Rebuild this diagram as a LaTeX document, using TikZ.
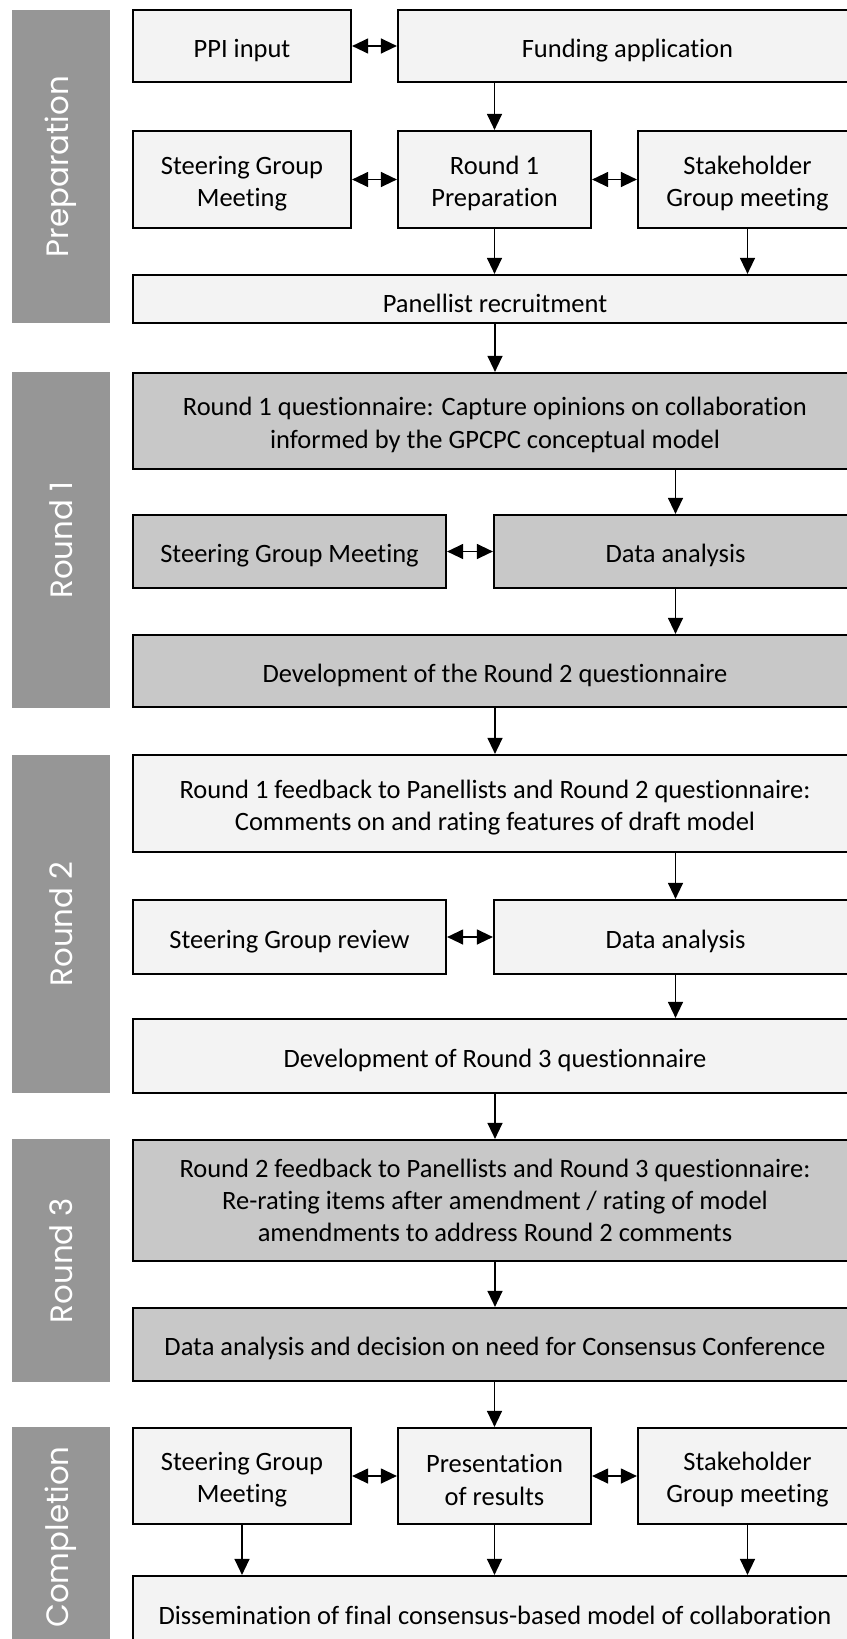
\documentclass[tikz,border=0pt]{standalone}
\usepackage{fontspec}
\setmainfont{Carlito}[Ligatures={NoCommon}]
\newfontfamily\sidefont{Poppins}
\usetikzlibrary{arrows.meta}
\definecolor{sidegray}{HTML}{969696}
\definecolor{lightbox}{HTML}{F3F3F3}
\definecolor{darkbox}{HTML}{C8C8C8}
\newcommand\topstrut{\rule{0pt}{26bp}}
\begin{document}
\begin{tikzpicture}[x=1bp,y=-1bp,
  box/.style={draw=black, line width=2.2bp, fill=lightbox, inner sep=0pt, align=center, font=\fontsize{26.6}{32.5}\selectfont, execute at begin node={\rule{0pt}{27bp}}},
  gbox/.style={box, fill=darkbox},
  side/.style={fill=sidegray, rotate=90, inner sep=0pt, text=white, font=\sidefont\fontsize{31}{36}\selectfont},
  arr/.style={line width=1.3bp, -{Triangle[length=16bp,width=15bp]}},
  darr/.style={line width=1.3bp, {Triangle[length=16bp,width=15bp]}-{Triangle[length=16bp,width=15bp]}}
]
\useasboundingbox[fill=white] (0,0) rectangle (846,1639);

% side bars
\node[side, minimum width=313bp, minimum height=98bp] (sP) at (61,166.5) {Preparation};
\node[side, minimum width=336bp, minimum height=98bp] (s1) at (61,540) {Round 1};
\node[side, minimum width=338bp, minimum height=98bp] (s2) at (61,924) {Round 2};
\node[side, minimum width=243bp, minimum height=98bp] (s3) at (61,1260.5) {Round 3};
\node[side, minimum width=240bp, minimum height=98bp] (sC) at (61,1547) {};
\node[side, fill=none] (sCt) at (61,1537) {Completion};

% Preparation
\node[box, minimum width=218bp, minimum height=72bp] (ppi) at (242,46) {PPI input};
\node[box, minimum width=459bp, minimum height=72bp] (fund) at (627.5,46) {Funding application};
\node[box, minimum width=218bp, minimum height=97bp] (sg1) at (242,179.5) {\topstrut Steering Group\\Meeting};
\node[box, minimum width=193bp, minimum height=97bp] (r1p) at (494.5,179.5) {\topstrut Round 1\\Preparation};
\node[box, minimum width=219bp, minimum height=97bp] (sh1) at (747.5,179.5) {\topstrut Stakeholder\\Group meeting};
\node[box, minimum width=724bp, minimum height=48bp] (pan) at (495,299) {Panellist recruitment};

% Round 1
\node[gbox, minimum width=724bp, minimum height=96bp] (r1q) at (495,421) {\topstrut Round 1 questionnaire: Capture opinions on collaboration\\informed by the GPCPC conceptual model};
\node[gbox, minimum width=313bp, minimum height=73bp] (sgm) at (289.5,551.5) {Steering Group Meeting};
\node[gbox, minimum width=363bp, minimum height=73bp] (da1) at (675.5,551.5) {Data analysis};
\node[gbox, minimum width=724bp, minimum height=72bp] (dev2) at (495,671) {Development of the Round 2 questionnaire};

% Round 2
\node[box, minimum width=724bp, minimum height=97bp] (fb1) at (495,803.5) {\topstrut Round 1 feedback to Panellists and Round 2 questionnaire:\\Comments on and rating features of draft model};
\node[box, minimum width=313bp, minimum height=74bp] (sgr) at (289.5,937) {Steering Group review};
\node[box, minimum width=363bp, minimum height=74bp] (da2) at (675.5,937) {Data analysis};
\node[box, minimum width=724bp, minimum height=74bp] (dev3) at (495,1056) {Development of Round 3 questionnaire};

% Round 3
\node[gbox, minimum width=724bp, minimum height=121bp] (fb2) at (495,1200.5) {Round 2 feedback to Panellists and Round 3 questionnaire:\\Re-rating items after amendment / rating of model\\amendments to address Round 2 comments};
\node[gbox, minimum width=724bp, minimum height=73bp] (dad) at (495,1344.5) {Data analysis and decision on need for Consensus Conference};

% Completion
\node[box, minimum width=218bp, minimum height=96bp] (sg3) at (242,1476) {\topstrut Steering Group\\Meeting};
\node[box, minimum width=193bp, minimum height=96bp] (pres) at (494.5,1476) {\topstrut Presentation\\of results};
\node[box, minimum width=219bp, minimum height=96bp] (sh3) at (747.5,1476) {\topstrut Stakeholder\\Group meeting};
\node[box, minimum width=724bp, text height=48bp, text depth=40bp] (dis) at (495,1620) {Dissemination of final consensus-based model of collaboration};

% connectors
\draw[darr] (ppi) -- (fund);
\draw[arr] (r1p.north |- fund.south) -- (r1p.north);
\draw[darr] (sg1) -- (r1p);
\draw[darr] (r1p) -- (sh1);
\draw[arr] (r1p.south) -- (r1p.south |- pan.north);
\draw[arr] (sh1.south) -- (sh1.south |- pan.north);
\draw[arr] (pan.south) -- (r1q.north);

\draw[arr] (da1.north |- r1q.south) -- (da1.north);
\draw[darr] (sgm) -- (da1);
\draw[arr] (da1.south) -- (da1.south |- dev2.north);
\draw[arr] (dev2.south) -- (fb1.north);

\draw[arr] (da2.north |- fb1.south) -- (da2.north);
\draw[darr] (sgr) -- (da2);
\draw[arr] (da2.south) -- (da2.south |- dev3.north);
\draw[arr] (dev3.south) -- (fb2.north);

\draw[arr] (fb2.south) -- (dad.north);
\draw[arr] (pres.north |- dad.south) -- (pres.north);

\draw[darr] (sg3) -- (pres);
\draw[darr] (pres) -- (sh3);
\draw[arr] (sg3.south) -- (sg3.south |- dis.north);
\draw[arr] (pres.south) -- (pres.south |- dis.north);
\draw[arr] (sh3.south) -- (sh3.south |- dis.north);
\end{tikzpicture}
\end{document}
